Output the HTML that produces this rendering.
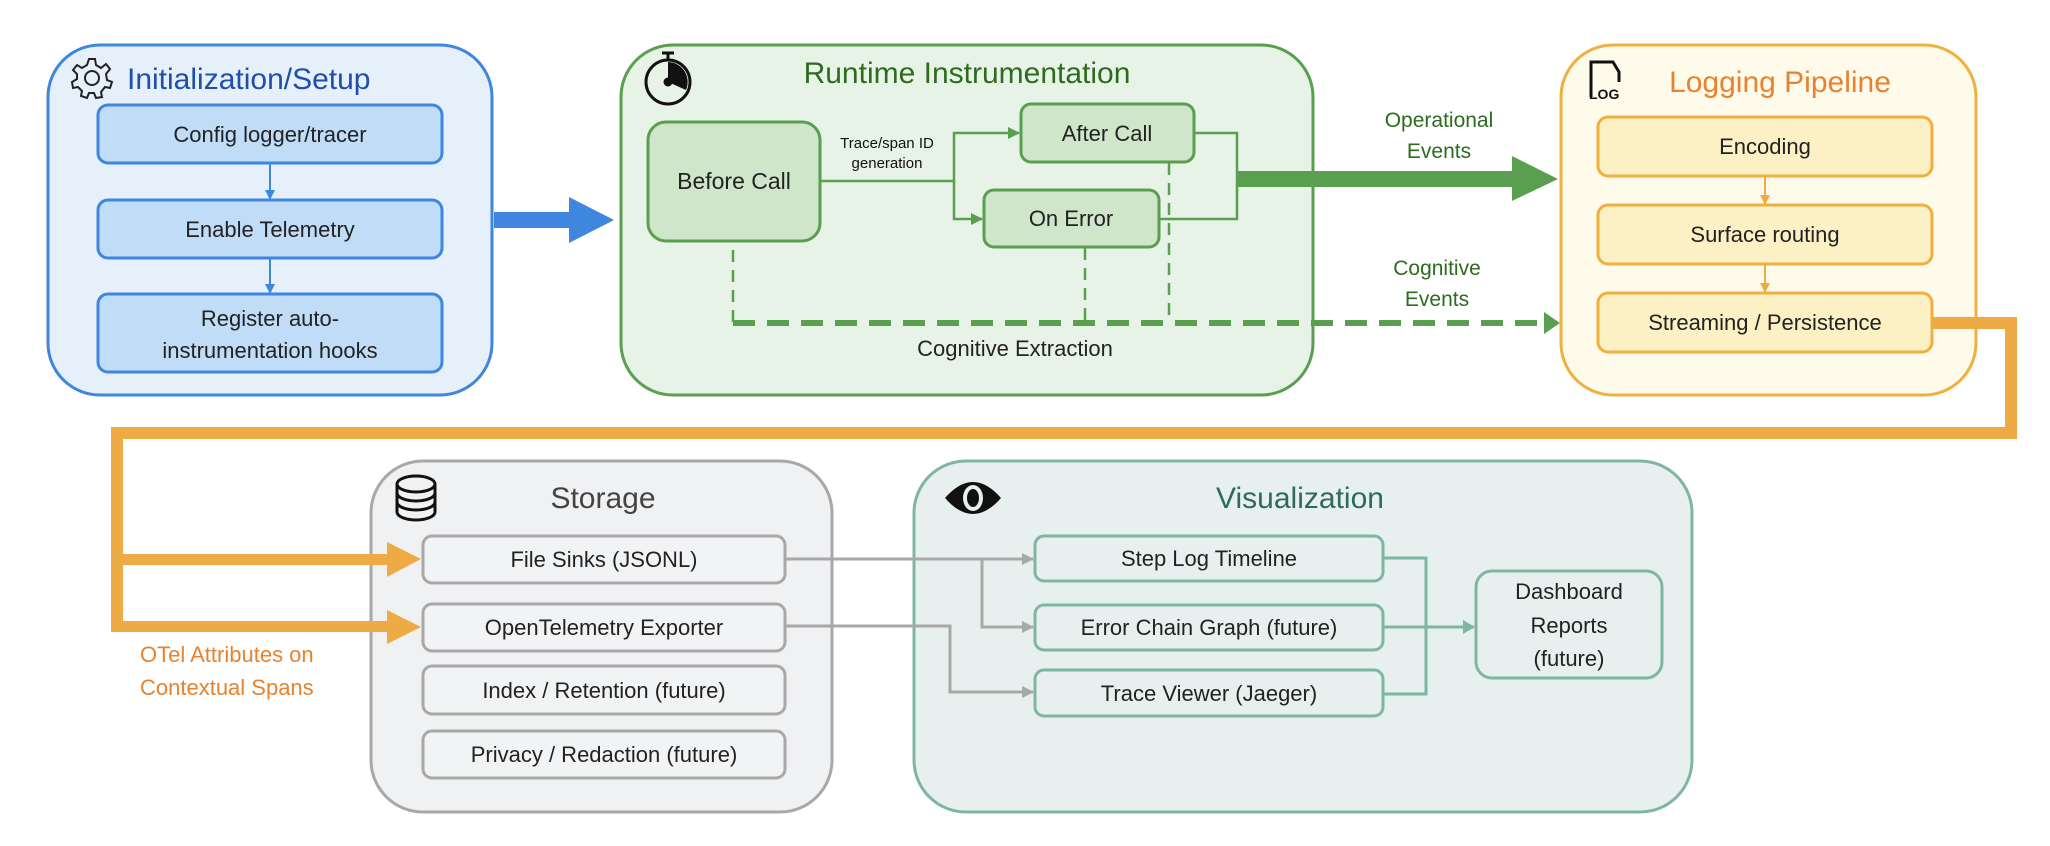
<!DOCTYPE html>
<html><head><meta charset="utf-8"><style>
html,body{margin:0;padding:0;background:#fff;}
svg{display:block;}
text{font-family:"Liberation Sans",sans-serif;}
</style></head><body>
<svg width="2050" height="846" viewBox="0 0 2050 846" xmlns="http://www.w3.org/2000/svg">
<defs>
<marker id="ab" markerWidth="10" markerHeight="10" refX="9" refY="5" orient="auto" markerUnits="userSpaceOnUse"><path d="M0,0 L10,5 L0,10 z" fill="#3f86de"/></marker>
<marker id="ag" markerWidth="12" markerHeight="12" refX="11" refY="6" orient="auto" markerUnits="userSpaceOnUse"><path d="M0,0 L12,6 L0,12 z" fill="#5a9e50"/></marker>
<marker id="ao" markerWidth="10" markerHeight="10" refX="9" refY="5" orient="auto" markerUnits="userSpaceOnUse"><path d="M0,0 L10,5 L0,10 z" fill="#eeaa44"/></marker>
<marker id="agr" markerWidth="12" markerHeight="12" refX="11" refY="6" orient="auto" markerUnits="userSpaceOnUse"><path d="M0,0 L12,6 L0,12 z" fill="#a8a8a8"/></marker>
<marker id="at" markerWidth="12" markerHeight="14" refX="11" refY="7" orient="auto" markerUnits="userSpaceOnUse"><path d="M0,0 L12,7 L0,14 z" fill="#7fb5a3"/></marker>
</defs>

<!-- Init -->
<rect x="48" y="45" width="444" height="350" rx="52" fill="#e6f0fb" stroke="#3f86de" stroke-width="3"/>
<g transform="translate(92,78)" fill="none" stroke="#222" stroke-width="2">
<circle r="7"/>
<path d="M-3,-19 L3,-19 L4,-13 L9,-10 L14,-14 L18,-9 L14,-4 L15,2 L20,4 L18,10 L13,9 L9,14 L10,19 L4,20 L2,15 L-3,15 L-5,20 L-11,18 L-10,13 L-14,9 L-19,10 L-20,4 L-15,1 L-15,-4 L-19,-8 L-15,-13 L-10,-10 L-5,-13 Z"/>
</g>
<text x="127" y="89" font-size="30" fill="#1f4fa8">Initialization/Setup</text>
<rect x="98" y="105" width="344" height="58" rx="10" fill="#c0dcf6" stroke="#3f86de" stroke-width="3"/>
<text x="270" y="142" font-size="22" fill="#222" text-anchor="middle">Config logger/tracer</text>
<rect x="98" y="200" width="344" height="58" rx="10" fill="#c0dcf6" stroke="#3f86de" stroke-width="3"/>
<text x="270" y="237" font-size="22" fill="#222" text-anchor="middle">Enable Telemetry</text>
<rect x="98" y="294" width="344" height="78" rx="10" fill="#c0dcf6" stroke="#3f86de" stroke-width="3"/>
<text x="270" y="326" font-size="22" fill="#222" text-anchor="middle">Register auto-</text>
<text x="270" y="358" font-size="22" fill="#222" text-anchor="middle">instrumentation hooks</text>
<line x1="270" y1="163" x2="270" y2="199" stroke="#3f86de" stroke-width="2" marker-end="url(#ab)"/>
<line x1="270" y1="258" x2="270" y2="293" stroke="#3f86de" stroke-width="2" marker-end="url(#ab)"/>
<path d="M494,212 L569,212 L569,197 L614,220 L569,243 L569,228 L494,228 Z" fill="#3f86de"/>

<!-- Runtime -->
<rect x="621" y="45" width="692" height="350" rx="52" fill="#e8f3e8" stroke="#5a9e50" stroke-width="3"/>
<g transform="translate(668,82)" fill="none" stroke="#111" stroke-width="3">
<circle r="22"/><line x1="0" y1="-22" x2="0" y2="-28"/><line x1="-6" y1="-29" x2="6" y2="-29"/>
<path d="M0,0 L0,-20 A20,20 0 0 1 18,8 Z" fill="#111" stroke="none"/><circle r="3" fill="#111"/>
</g>
<text x="967" y="83" font-size="30" fill="#2e6b1f" text-anchor="middle">Runtime Instrumentation</text>
<rect x="648" y="122" width="172" height="119" rx="18" fill="#cfe6cb" stroke="#5a9e50" stroke-width="3"/>
<text x="734" y="189" font-size="23" fill="#222" text-anchor="middle">Before Call</text>
<text x="887" y="148" font-size="15" fill="#111" text-anchor="middle">Trace/span ID</text>
<text x="887" y="168" font-size="15" fill="#111" text-anchor="middle">generation</text>
<rect x="1021" y="104" width="173" height="58" rx="10" fill="#cfe6cb" stroke="#5a9e50" stroke-width="3"/>
<text x="1107" y="141" font-size="22" fill="#222" text-anchor="middle">After Call</text>
<rect x="984" y="190" width="175" height="57" rx="10" fill="#cfe6cb" stroke="#5a9e50" stroke-width="3"/>
<text x="1071" y="226" font-size="22" fill="#222" text-anchor="middle">On Error</text>
<path d="M820,181 L954,181 L954,133 L1019,133" fill="none" stroke="#5a9e50" stroke-width="2.5" marker-end="url(#ag)"/>
<path d="M954,181 L954,219 L982,219" fill="none" stroke="#5a9e50" stroke-width="2.5" marker-end="url(#ag)"/>
<path d="M1194,133 L1237,133 L1237,219 L1159,219" fill="none" stroke="#5a9e50" stroke-width="2.5"/>
<path d="M1237,171 L1512,171 L1512,156 L1558,179 L1512,201 L1512,187 L1237,187 Z" fill="#5a9e50"/>
<text x="1439" y="127" font-size="21" fill="#2e6b1f" text-anchor="middle">Operational</text>
<text x="1439" y="158" font-size="21" fill="#2e6b1f" text-anchor="middle">Events</text>
<text x="1437" y="275" font-size="21" fill="#2e6b1f" text-anchor="middle">Cognitive</text>
<text x="1437" y="306" font-size="21" fill="#2e6b1f" text-anchor="middle">Events</text>
<g stroke="#5a9e50" stroke-width="2.5" stroke-dasharray="12,8" fill="none">
<line x1="733" y1="250" x2="733" y2="323"/>
<line x1="1085" y1="248" x2="1085" y2="323"/>
<line x1="1169" y1="163" x2="1169" y2="323"/>
</g>
<line x1="733" y1="323" x2="1546" y2="323" stroke="#5a9e50" stroke-width="6" stroke-dasharray="22,12"/>
<path d="M1544,312 L1560,323 L1544,334 Z" fill="#5a9e50"/>
<text x="1015" y="356" font-size="22" fill="#222" text-anchor="middle">Cognitive Extraction</text>

<!-- Logging -->
<rect x="1561" y="45" width="415" height="350" rx="52" fill="#fffbea" stroke="#f0b040" stroke-width="3"/>
<path d="M1591,97 L1591,62 L1613,62 L1619,72 L1619,82" fill="none" stroke="#111" stroke-width="3"/>
<text x="1589" y="99" font-size="14" font-weight="bold" fill="#111">LOG</text>
<text x="1780" y="92" font-size="30" fill="#e8822e" text-anchor="middle">Logging Pipeline</text>
<rect x="1598" y="117" width="334" height="59" rx="10" fill="#fcf1c4" stroke="#f0b040" stroke-width="3"/>
<text x="1765" y="154" font-size="22" fill="#222" text-anchor="middle">Encoding</text>
<rect x="1598" y="205" width="334" height="59" rx="10" fill="#fcf1c4" stroke="#f0b040" stroke-width="3"/>
<text x="1765" y="242" font-size="22" fill="#222" text-anchor="middle">Surface routing</text>
<rect x="1598" y="293" width="334" height="59" rx="10" fill="#fcf1c4" stroke="#f0b040" stroke-width="3"/>
<text x="1765" y="330" font-size="22" fill="#222" text-anchor="middle">Streaming / Persistence</text>
<line x1="1765" y1="176" x2="1765" y2="204" stroke="#eeaa44" stroke-width="2" marker-end="url(#ao)"/>
<line x1="1765" y1="264" x2="1765" y2="292" stroke="#eeaa44" stroke-width="2" marker-end="url(#ao)"/>

<!-- Orange route -->
<path d="M1932,323 L2011,323 L2011,433 L117,433 L117,627" fill="none" stroke="#eeaa44" stroke-width="12"/>
<text x="140" y="662" font-size="22" fill="#e8822e">OTel Attributes on</text>
<text x="140" y="695" font-size="22" fill="#e8822e">Contextual Spans</text>

<!-- Storage -->
<rect x="371" y="461" width="461" height="351" rx="52" fill="#f0f1f3" stroke="#a8a8a8" stroke-width="3"/>
<g fill="none" stroke="#111" stroke-width="3">
<ellipse cx="416" cy="484" rx="19" ry="8"/>
<path d="M397,484 L397,512 A19,8 0 0 0 435,512 L435,484"/>
<path d="M397,493 A19,8 0 0 0 435,493"/><path d="M397,502 A19,8 0 0 0 435,502"/>
</g>
<text x="603" y="508" font-size="30" fill="#444" text-anchor="middle">Storage</text>
<g fill="#f2f3f4" stroke="#a8a8a8" stroke-width="3">
<rect x="423" y="536" width="362" height="47" rx="9"/>
<rect x="423" y="604" width="362" height="47" rx="9"/>
<rect x="423" y="666" width="362" height="48" rx="9"/>
<rect x="423" y="731" width="362" height="47" rx="9"/>
</g>
<path d="M111,554 L387,554 L387,542 L421,559 L387,577 L387,565 L111,565 Z" fill="#eeaa44"/>
<path d="M111,621 L387,621 L387,610 L421,627 L387,644 L387,632 L111,632 Z" fill="#eeaa44"/>
<text x="604" y="567" font-size="22" fill="#222" text-anchor="middle">File Sinks (JSONL)</text>
<text x="604" y="635" font-size="22" fill="#222" text-anchor="middle">OpenTelemetry Exporter</text>
<text x="604" y="698" font-size="22" fill="#222" text-anchor="middle">Index / Retention (future)</text>
<text x="604" y="762" font-size="22" fill="#222" text-anchor="middle">Privacy / Redaction (future)</text>

<!-- Visualization -->
<rect x="914" y="461" width="778" height="351" rx="52" fill="#e7f0ee" stroke="#7fb5a3" stroke-width="3"/>
<g transform="translate(973,498)">
<path d="M-28,0 Q0,-32 28,0 Q0,32 -28,0 Z" fill="#111"/>
<ellipse rx="10" ry="13" fill="#e7f0ee"/><ellipse rx="6" ry="9" fill="#111"/>
</g>
<text x="1300" y="508" font-size="30" fill="#2f6b5a" text-anchor="middle">Visualization</text>
<g fill="#e7f0ee" stroke="#7fb5a3" stroke-width="3">
<rect x="1035" y="536" width="348" height="45" rx="9"/>
<rect x="1035" y="605" width="348" height="45" rx="9"/>
<rect x="1035" y="670" width="348" height="46" rx="9"/>
<rect x="1476" y="571" width="186" height="107" rx="16"/>
</g>
<text x="1209" y="566" font-size="22" fill="#222" text-anchor="middle">Step Log Timeline</text>
<text x="1209" y="635" font-size="22" fill="#222" text-anchor="middle">Error Chain Graph (future)</text>
<text x="1209" y="701" font-size="22" fill="#222" text-anchor="middle">Trace Viewer (Jaeger)</text>
<text x="1569" y="599" font-size="22" fill="#222" text-anchor="middle">Dashboard</text>
<text x="1569" y="633" font-size="22" fill="#222" text-anchor="middle">Reports</text>
<text x="1569" y="666" font-size="22" fill="#222" text-anchor="middle">(future)</text>
<path d="M1383,558 L1426,558 L1426,694 L1383,694" fill="none" stroke="#7fb5a3" stroke-width="3"/>
<line x1="1383" y1="627" x2="1474" y2="627" stroke="#7fb5a3" stroke-width="3" marker-end="url(#at)"/>

<!-- grey connectors -->
<g fill="none" stroke="#a8a8a8" stroke-width="3">
<path d="M785,559 L1033,559" marker-end="url(#agr)"/>
<path d="M982,559 L982,627 L1033,627" marker-end="url(#agr)"/>
<path d="M785,626 L950,626 L950,692 L1033,692" marker-end="url(#agr)"/>
</g>
</svg>
</body></html>
